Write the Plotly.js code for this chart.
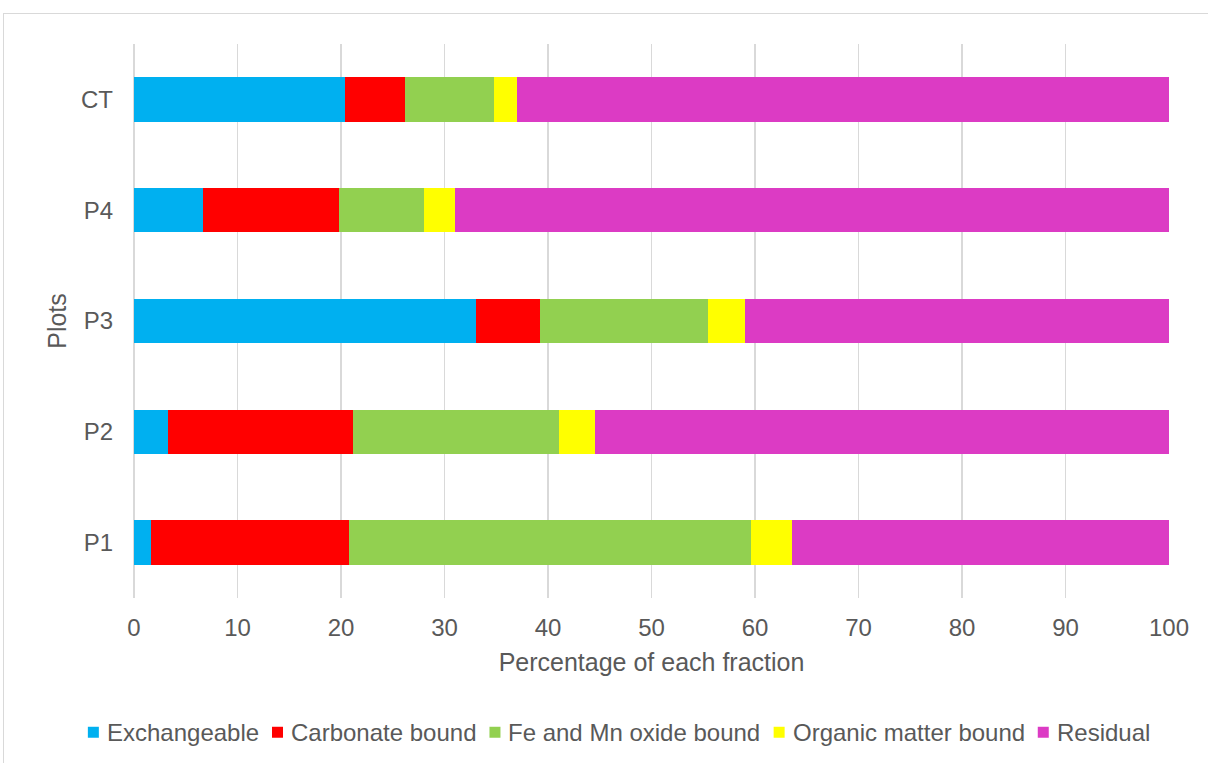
<!DOCTYPE html>
<html>
<head>
<meta charset="utf-8">
<script src="https://cdn.plot.ly/plotly-3.0.1.min.js"></script>
<style>
  html, body { margin: 0; padding: 0; overflow: hidden; background: #ffffff; }
  #frame { position: absolute; left: 3px; top: 13px; width: 1300px; height: 900px; border: 1px solid #d9d9d9; }
  #chart { position: absolute; left: 0; top: 0; width: 1208px; height: 763px; }
</style>
</head>
<body>
<div id="frame"></div>
<div id="chart"></div>
<script>
// Plots, bottom to top
const plots = ['P1', 'P2', 'P3', 'P4', 'CT'];

// Percentage of each fraction per plot
const exchangeable   = [1.6, 3.3, 33.0, 6.7, 20.4];
const carbonate      = [19.2, 17.9, 6.2, 13.1, 5.8];
const feMnOxide      = [38.8, 19.9, 16.3, 8.2, 8.6];
const organicMatter  = [4.0, 3.4, 3.5, 3.0, 2.2];
const residual       = [36.4, 55.5, 41.0, 69.0, 63.0];

const fractionNames = ['Exchangeable', 'Carbonate bound', 'Fe and Mn oxide bound', 'Organic matter bound', 'Residual'];
const fractionValues = [exchangeable, carbonate, feMnOxide, organicMatter, residual];
const fractionColors = ['#00B0F0', '#FF0000', '#92D050', '#FFFF00', '#DC3BC4'];

const traces = fractionNames.map((name, i) => ({
  type: 'bar',
  orientation: 'h',
  name: name,
  y: plots,
  x: fractionValues[i],
  marker: { color: fractionColors[i], line: { width: 0 } },
  hoverinfo: 'x+y+name'
}));

const textColor = '#595959';
const fontFamily = 'Liberation Sans, Arial, sans-serif';
const fontSize = 24;

// Plot area geometry in pixels (used for the compact one-line legend below the axis)
const W = 1208, H = 763;
const margin = { l: 134, r: 39, t: 43.5, b: 164.5 };
const plotW = W - margin.l - margin.r;
const plotH = H - margin.t - margin.b;
const toPaperX = px => (px - margin.l) / plotW;
const toPaperY = py => (H - margin.b - py) / plotH;

// Compact legend: small square swatch, tight gap, label, then the next entry
const ctx = document.createElement('canvas').getContext('2d');
ctx.font = fontSize + 'px "Liberation Sans", Arial, sans-serif';
const swatch = 11, swatchGap = 6, entryGap = 15;
const legendY = 733;
const widths = fractionNames.map(n => ctx.measureText(n).width);
const totalW = widths.reduce((s, w) => s + swatch + swatchGap + w, 0) + entryGap * (fractionNames.length - 1);
let cursor = 618 - totalW / 2;

const shapes = [];
const annotations = [];
fractionNames.forEach((name, i) => {
  shapes.push({
    type: 'rect', xref: 'paper', yref: 'paper',
    x0: toPaperX(cursor), x1: toPaperX(cursor + swatch),
    y0: toPaperY(legendY + swatch / 2), y1: toPaperY(legendY - swatch / 2),
    fillcolor: fractionColors[i], line: { width: 0 }
  });
  annotations.push({
    xref: 'paper', yref: 'paper',
    x: toPaperX(cursor + swatch + swatchGap), y: toPaperY(legendY),
    xanchor: 'left', yanchor: 'middle',
    text: name, showarrow: false,
    font: { family: fontFamily, size: fontSize, color: textColor }
  });
  cursor += swatch + swatchGap + widths[i] + entryGap;
});

const layout = {
  width: W,
  height: H,
  barmode: 'stack',
  bargap: 0.6,
  paper_bgcolor: 'rgba(0,0,0,0)',
  plot_bgcolor: 'rgba(0,0,0,0)',
  margin: margin,
  font: { family: fontFamily, size: fontSize, color: textColor },
  showlegend: false,
  xaxis: {
    range: [0, 100],
    dtick: 10,
    tick0: 0,
    showgrid: true,
    gridcolor: '#d9d9d9',
    gridwidth: 1.5,
    zeroline: true,
    zerolinecolor: '#d9d9d9',
    zerolinewidth: 1.5,
    showline: false,
    ticks: '',
    automargin: false,
    ticklabelstandoff: 13,
    tickfont: { size: fontSize, color: textColor },
    title: { text: 'Percentage of each fraction', font: { size: 25, color: textColor }, standoff: 13 }
  },
  yaxis: {
    showgrid: false,
    zeroline: false,
    showline: false,
    ticks: '',
    automargin: false,
    ticklabelstandoff: 20,
    tickfont: { size: fontSize, color: textColor },
    title: { text: 'Plots', font: { size: 25, color: textColor }, standoff: 7 }
  },
  shapes: shapes,
  annotations: annotations
};

Plotly.newPlot('chart', traces, layout, { displayModeBar: false, staticPlot: true });
</script>
</body>
</html>
